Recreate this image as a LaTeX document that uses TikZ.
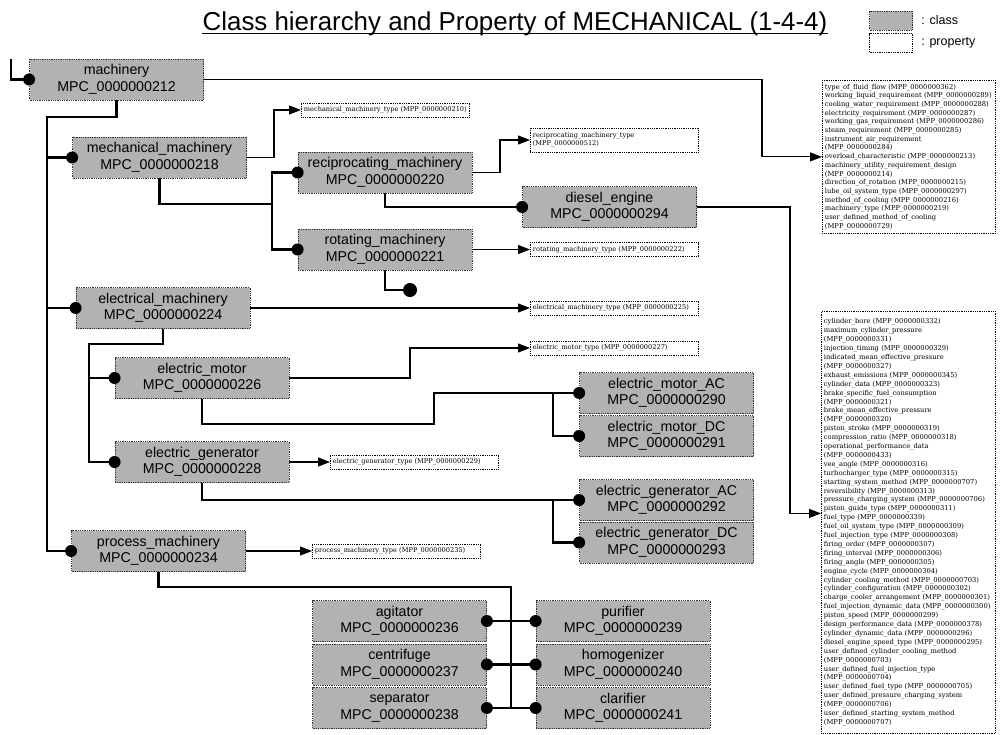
\documentclass[tikz,border=0pt]{standalone}
\usepackage{fontspec}
\setmainfont{Liberation Sans}
\newfontfamily\propfont{DejaVu Serif}
\usetikzlibrary{arrows.meta}
\tikzset{
  classbox/.style={draw=black!80, densely dotted, line width=0.8pt, fill=black!30, minimum width=174pt, minimum height=41pt, inner sep=1pt, align=center, font=\fontsize{14.2}{16.5}\selectfont},
  propbox/.style={draw, densely dotted, line width=0.8pt, fill=white, anchor=west, minimum width=168pt, minimum height=14pt, text width=163pt, inner xsep=2.5pt, inner ysep=1pt, align=left, font=\propfont\fontsize{6.6}{8.5}\selectfont},
  tree/.style={line width=2.9pt},
  link/.style={line width=1.1pt, -{Triangle[length=12pt,width=9pt]}},
  knob/.style={circle, fill, inner sep=0pt, minimum size=12pt},
}
\begin{document}
\begin{tikzpicture}[x=1pt, y=-1pt, line join=miter]
  \useasboundingbox (0,0) rectangle (1000,734);
  % title and legend
  \node[anchor=base, inner sep=0pt, font=\fontsize{25.9}{30}\selectfont] (title) at (515,30) {Class hierarchy and Property of MECHANICAL (1-4-4)};
  \draw[line width=1.2pt] ([yshift=-3.5pt]title.base west) -- ([yshift=-3.5pt]title.base east);
  \node[classbox, minimum width=43pt, minimum height=19pt] (legclass) at (891,20.5) {};
  \node[draw, densely dotted, line width=0.8pt, minimum width=43pt, minimum height=19pt] (legprop) at (891,43) {};
  \node[anchor=west, font=\fontsize{12.5}{14}\selectfont] at ([xshift=5pt]legclass.east) {: class};
  \node[anchor=west, font=\fontsize{12.5}{14}\selectfont] at ([xshift=5pt]legprop.east) {: property};
  % classes
  \node[classbox] (machinery) at (116.5,79.5) {machinery\\MPC\_0000000212};
  \node[classbox] (mech) at (159.5,157.5) {mechanical\_machinery\\MPC\_0000000218};
  \node[classbox] (recip) at (385,172.5) {reciprocating\_machinery\\MPC\_0000000220};
  \node[classbox] (diesel) at (609.5,207) {diesel\_engine\\MPC\_0000000294};
  \node[classbox] (rotating) at (385,249.5) {rotating\_machinery\\MPC\_0000000221};
  \node[classbox] (electrical) at (163,308) {electrical\_machinery\\MPC\_0000000224};
  \node[classbox] (motor) at (202,378) {electric\_motor\\MPC\_0000000226};
  \node[classbox] (generator) at (202,462) {electric\_generator\\MPC\_0000000228};
  \node[classbox] (motorAC) at (666.5,393) {electric\_motor\_AC\\MPC\_0000000290};
  \node[classbox] (motorDC) at (666.5,436) {electric\_motor\_DC\\MPC\_0000000291};
  \node[classbox] (genAC) at (666.5,500) {electric\_generator\_AC\\MPC\_0000000292};
  \node[classbox] (genDC) at (666.5,542.5) {electric\_generator\_DC\\MPC\_0000000293};
  \node[classbox] (process) at (158.5,551) {process\_machinery\\MPC\_0000000234};
  \foreach \n/\y/\id in {agitator/621/236, centrifuge/664.5/237, separator/708/238}
    \node[classbox] (\n) at (399.5,\y) {\n\\MPC\_0000000\id};
  \foreach \n/\y/\id in {purifier/621/239, homogenizer/664.5/240, clarifier/708/241}
    \node[classbox] (\n) at (623,\y) {\n\\MPC\_0000000\id};
  % properties
  \node[propbox] (mechtype) at (301,110) {mechanical\_machinery\_type (MPP\_0000000210)};
  \node[propbox, minimum height=24pt] (reciptype) at (530,140) {reciprocating\_machinery\_type\\(MPP\_0000000512)};
  \node[propbox] (rottype) at (530,249.5) {rotating\_machinery\_type (MPP\_0000000222)};
  \node[propbox] (elecmtype) at (530,308) {electrical\_machinery\_type (MPP\_0000000225)};
  \node[propbox] (motortype) at (530,348) {electric\_motor\_type (MPP\_0000000227)};
  \node[propbox] (gentype) at (330,462) {electric\_generator\_type (MPP\_0000000229)};
  \node[propbox] (proctype) at (312,551) {process\_machinery\_type (MPP\_0000000235)};
  \node[propbox, anchor=north west, minimum width=173pt, text width=168pt, minimum height=153pt, font=\propfont\fontsize{6.75}{8.7}\selectfont] (machprops) at (822,80) {type\_of\_fluid\_flow (MPP\_0000000362)\\
    working\_liquid\_requirement (MPP\_0000000289)\\
    cooling\_water\_requirement (MPP\_0000000288)\\
    electricity\_requirement (MPP\_0000000287)\\
    working\_gas\_requirement (MPP\_0000000286)\\
    steam\_requirement (MPP\_0000000285)\\
    instrument\_air\_requirement\\
    (MPP\_0000000284)\\
    overload\_characteristic (MPP\_0000000213)\\
    machinery\_utility\_requirement\_design\\
    (MPP\_0000000214)\\
    direction\_of\_rotation (MPP\_0000000215)\\
    lube\_oil\_system\_type (MPP\_0000000297)\\
    method\_of\_cooling (MPP\_0000000216)\\
    machinery\_type (MPP\_0000000219)\\
    user\_defined\_method\_of\_cooling\\
    (MPP\_0000000729)};
  \node[propbox, anchor=north west, minimum width=174pt, text width=169pt, minimum height=422pt, font=\propfont\fontsize{6.75}{8.9}\selectfont] (dieselprops) at (821,311) {cylinder\_bore (MPP\_0000000332)\\
    maximum\_cylinder\_pressure\\
    (MPP\_0000000331)\\
    injection\_timing (MPP\_0000000329)\\
    indicated\_mean\_effective\_pressure\\
    (MPP\_0000000327)\\
    exhaust\_emissions (MPP\_0000000345)\\
    cylinder\_data (MPP\_0000000323)\\
    brake\_specific\_fuel\_consumption\\
    (MPP\_0000000321)\\
    brake\_mean\_effective\_pressure\\
    (MPP\_0000000320)\\
    piston\_stroke (MPP\_0000000319)\\
    compression\_ratio (MPP\_0000000318)\\
    operational\_performance\_data\\
    (MPP\_0000000433)\\
    vee\_angle (MPP\_0000000316)\\
    turbocharger\_type (MPP\_0000000315)\\
    starting\_system\_method (MPP\_0000000707)\\
    reversibility (MPP\_0000000313)\\
    pressure\_charging\_system (MPP\_0000000706)\\
    piston\_guide\_type (MPP\_0000000311)\\
    fuel\_type (MPP\_0000000339)\\
    fuel\_oil\_system\_type (MPP\_0000000309)\\
    fuel\_injection\_type (MPP\_0000000308)\\
    firing\_order (MPP\_0000000307)\\
    firing\_interval (MPP\_0000000306)\\
    firing\_angle (MPP\_0000000305)\\
    engine\_cycle (MPP\_0000000304)\\
    cylinder\_cooling\_method (MPP\_0000000703)\\
    cylinder\_configuration (MPP\_0000000302)\\
    charge\_cooler\_arrangement (MPP\_0000000301)\\
    fuel\_injection\_dynamic\_data (MPP\_0000000300)\\
    piston\_speed (MPP\_0000000299)\\
    design\_performance\_data (MPP\_0000000378)\\
    cylinder\_dynamic\_data (MPP\_0000000296)\\
    diesel\_engine\_speed\_type (MPP\_0000000295)\\
    user\_defined\_cylinder\_cooling\_method\\
    (MPP\_0000000703)\\
    user\_defined\_fuel\_injection\_type\\
    (MPP\_0000000704)\\
    user\_defined\_fuel\_type (MPP\_0000000705)\\
    user\_defined\_pressure\_charging\_system\\
    (MPP\_0000000706)\\
    user\_defined\_starting\_system\_method\\
    (MPP\_0000000707)};
  % property links
  \draw[link] (machinery.east) -| ([xshift=-60pt]machprops.west) -- (machprops.west);
  \draw[link] (mech.east) -| ([xshift=-27pt]mechtype.west) -- (mechtype.west);
  \draw[link] (recip.east) -| ([xshift=-30pt]reciptype.west) -- (reciptype.west);
  \draw[link] (diesel.east) -| ([xshift=-31pt,yshift=9pt]dieselprops.west) -- ([yshift=9pt]dieselprops.west);
  \draw[link] (rotating.east) -- (rottype.west);
  \draw[link] (electrical.east) -- (elecmtype.west);
  \draw[link] (motor.east) -| ([xshift=-120pt]motortype.west) -- (motortype.west);
  \draw[link] (generator.east) -- (gentype.west);
  \draw[link] (process.east) -- (proctype.west);
  % hierarchy
  \coordinate (start) at (11,59);
  \coordinate (trunk) at (47,117);
  \draw[tree] (start) |- (machinery.west);
  \draw[tree] (machinery.south) |- (trunk) |- (process.west);
  \draw[tree] (trunk |- mech.west) -- (mech.west);
  \draw[tree] (trunk |- electrical.west) -- (electrical.west);
  \coordinate (mechjoin) at (272,204);
  \draw[tree] (mech.south) |- (mechjoin);
  \draw[tree] (recip.west) -| (mechjoin |- rotating.west) -- (rotating.west);
  \draw[tree] (recip.south) |- (diesel.west);
  \coordinate (rotend) at (410,290);
  \draw[tree] (rotating.south) |- (rotend);
  \coordinate (elecjoin) at (89,344);
  \draw[tree] (electrical.south) |- (elecjoin) |- (generator.west);
  \draw[tree] (elecjoin |- motor.west) -- (motor.west);
  \coordinate (motorstep) at (434,424);
  \coordinate (acbranch) at (553,0);
  \draw[tree] (motor.south) |- (motorstep) |- (motorAC.west);
  \draw[tree] (motorAC.west -| acbranch) |- (motorDC.west);
  \draw[tree] (generator.south) |- (genAC.west);
  \draw[tree] (genAC.west -| acbranch) |- (genDC.west);
  \coordinate (procjoin) at (511,587);
  \draw[tree] (process.south) |- (procjoin) -- (procjoin |- separator.east);
  \foreach \l/\r in {agitator/purifier, centrifuge/homogenizer, separator/clarifier}
    \draw[tree] (\l.east) -- (\r.west);
  % knobs
  \foreach \p in {machinery.west, mech.west, recip.west, diesel.west, rotating.west, electrical.west, motor.west, generator.west, motorAC.west, motorDC.west, genAC.west, genDC.west, process.west, agitator.east, centrifuge.east, separator.east, purifier.west, homogenizer.west, clarifier.west}
    \node[knob] at (\p) {};
  \node[knob, minimum size=14pt] at (rotend) {};
\end{tikzpicture}
\end{document}
